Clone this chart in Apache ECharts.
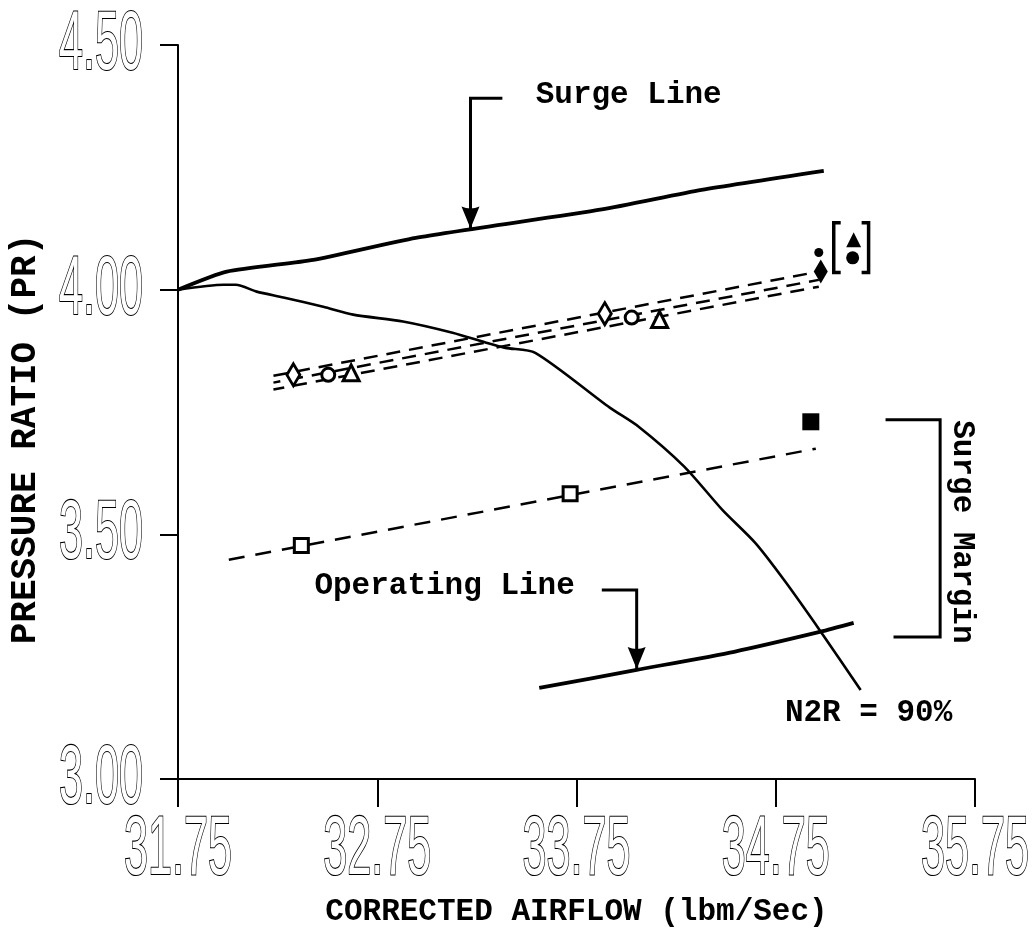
<!DOCTYPE html>
<html><head><meta charset="utf-8">
<script src="https://cdn.jsdelivr.net/npm/echarts@6/dist/echarts.min.js"></script>
<style>html,body{margin:0;padding:0;background:#fff}#c{width:1033px;height:933px}</style>
</head><body><div id="c"></div>
<script>
// ---- tick values and labels ----
const xTicks = [31.75, 32.75, 33.75, 34.75, 35.75];
const xTickLabels = ['31.75', '32.75', '33.75', '34.75', '35.75'];
const yTicks = [3.00, 3.50, 4.00, 4.50];
const yTickLabels = ['3.00', '3.50', '4.00', '4.50'];

// ---- curves ----
const surgeLine = [[31.75,4.000],[31.995,4.037],[32.429,4.061],[32.943,4.106],[33.877,4.164],[34.377,4.204],[34.991,4.243]];
const speedLine90 = [[31.75,4.000],[31.98,4.010],[32.04,4.010],[32.145,3.996],[32.279,3.984],[32.479,3.965],[32.629,3.949],[32.879,3.935],[33.128,3.912],[33.293,3.892],[33.393,3.881],[33.543,3.871],[33.917,3.759],[34.062,3.720],[34.292,3.638],[34.482,3.550],[34.646,3.483],[34.791,3.407],[34.976,3.301],[35.176,3.182]];
const operatingLine = [[33.563,3.186],[34.052,3.223],[34.541,3.260],[34.976,3.301],[35.141,3.319]];

// ---- fitted dashed lines ----
const upperFitA = [[32.229,3.824],[34.966,4.037]];
const upperFitB = [[32.229,3.810],[34.966,4.020]];
const upperFitC = [[32.229,3.796],[34.966,4.006]];
const lowerFit = [[32.005,3.448],[34.951,3.675]];

// ---- test points ----
const openDiamonds = [[32.329,3.826],[33.892,3.951]];
const openCircles = [[32.504,3.826],[34.027,3.943]];
const openTriangles = [[32.619,3.830],[34.167,3.939]];
const openSquares = [[32.369,3.477],[33.718,3.583]];
const filledDiamonds = [[34.976,4.037]];
const filledDots = [[34.966,4.076]];
const filledTriangles = [[35.141,4.102]];
const filledCircles = [[35.136,4.065]];
const filledSquares = [[34.926,3.730]];

// ---- annotation geometry (data units) ----
const surgeLineArrow = [[33.378,4.391],[33.218,4.391],[33.218,4.125]];
const operatingLineArrow = [[33.877,3.386],[34.052,3.386],[34.052,3.225]];
const surgeMarginBracket = [[35.301,3.734],[35.575,3.734],[35.575,3.290],[35.341,3.290]];
const leftBracket = [[35.076,4.137],[35.041,4.137],[35.041,4.035],[35.076,4.035]];
const rightBracket = [[35.181,4.137],[35.216,4.137],[35.216,4.035],[35.181,4.035]];
const annotationTexts = [
  {name: 'Surge Line', value: [34.012, 4.397], rot: 0},
  {name: 'Operating Line', value: [33.088, 3.395], rot: 0},
  {name: 'N2R = 90%', value: [35.216, 3.135], rot: 0},
  {name: 'Surge Margin', value: [35.685, 3.505], rot: -90}
];

const mono = '"Liberation Mono", "DejaVu Sans Mono", monospace';
const chart = echarts.init(document.getElementById('c'), null, {renderer: 'canvas'});

function curve(data, width, dash, offset, smooth) {
  return {type: 'line', data: data, showSymbol: false, symbol: 'none', smooth: smooth || false,
    lineStyle: {color: '#000', width: width, type: dash || 'solid', dashOffset: offset || 0},
    z: 2, silent: true, animation: false};
}
function pts(data, symbol, size, filled) {
  return {type: 'scatter', data: data, symbol: symbol, symbolSize: size,
    itemStyle: {color: filled ? '#000' : '#fff', borderColor: '#000', borderWidth: filled ? 0 : 3, opacity: 1},
    z: 5, silent: true, animation: false};
}
function poly(coords, width) {
  return {type: 'lines', coordinateSystem: 'cartesian2d', polyline: true,
    symbol: 'none',
    lineStyle: {color: '#000', width: width || 3, opacity: 1, curveness: 0},
    data: [{coords: coords}], z: 4, silent: true, animation: false};
}
const arrowTips = [surgeLineArrow[surgeLineArrow.length - 1], operatingLineArrow[operatingLineArrow.length - 1]];

const option = {
  backgroundColor: '#fff',
  animation: false,
  grid: {left: 174, right: 58, top: 45, bottom: 154, containLabel: false},
  xAxis: {
    type: 'value', min: 31.75, max: 35.75,
    name: 'CORRECTED AIRFLOW (lbm/Sec)', nameLocation: 'middle', nameGap: 118,
    nameTextStyle: {fontFamily: mono, fontWeight: 'bold', fontSize: 31, color: '#000'},
    axisLine: {show: true, onZero: false, lineStyle: {color: '#000', width: 2}},
    axisTick: {show: true, length: 28, customValues: xTicks, lineStyle: {color: '#000', width: 2}},
    axisLabel: {show: false, customValues: xTicks},
    splitLine: {show: false}
  },
  yAxis: {
    type: 'value', min: 3, max: 4.5, interval: 0.5,
    name: 'PRESSURE RATIO (PR)', nameLocation: 'middle', nameGap: 134, nameRotate: 90,
    nameTextStyle: {fontFamily: mono, fontWeight: 'bold', fontSize: 36, color: '#000', padding: [0, 54, 0, 0]},
    axisLine: {show: true, onZero: false, lineStyle: {color: '#000', width: 2}},
    axisTick: {show: true, length: 18, lineStyle: {color: '#000', width: 2}},
    axisLabel: {show: false},
    splitLine: {show: false}
  },
  series: [
    curve(surgeLine, 3.8, 'solid', 0, 0.2),
    curve(speedLine90, 2.6, 'solid', 0, 0.25),
    curve(operatingLine, 3.8, 'solid', 0, 0.2),
    curve(upperFitA, 2.5, [14, 9], 0),
    curve(upperFitB, 2.5, [14, 9], 7),
    curve(upperFitC, 2.5, [14, 9], 3),
    curve(lowerFit, 2.5, [16, 11], 0),
    pts(openDiamonds, 'diamond', [13, 22], false),
    pts(openCircles, 'circle', 13, false),
    pts(openTriangles, 'triangle', 16, false),
    pts(openSquares, 'rect', 14, false),
    pts(filledDiamonds, 'diamond', [14, 24], true),
    pts(filledDots, 'circle', 9, true),
    pts(filledTriangles, 'triangle', 15, true),
    pts(filledCircles, 'circle', 13, true),
    pts(filledSquares, 'rect', 17, true),
    poly(surgeLineArrow, 3),
    poly(operatingLineArrow, 3),
    poly(surgeMarginBracket, 3),
    poly(leftBracket, 3.5),
    poly(rightBracket, 3.5),
    {
      type: 'scatter', data: arrowTips, silent: true, animation: false, z: 6,
      symbol: 'path://M0,0 Q9,4 18,0 L9,22 Z', symbolSize: [18, 22], symbolOffset: [0, -11],
      itemStyle: {color: '#000', opacity: 1}
    },
    {
      type: 'scatter', silent: true, animation: false, z: 6,
      data: annotationTexts.map(a => ({name: a.name, value: a.value, label: {rotate: a.rot}})),
      symbolSize: 0, itemStyle: {color: '#000', opacity: 1},
      label: {show: true, position: 'inside', formatter: p => p.name, textBorderWidth: 0,
        fontFamily: mono, fontWeight: 'bold', fontSize: 31, color: '#000', opacity: 1}
    }
  ]
};
chart.setOption(option);

// tall condensed tick labels placed through the axis scales
const tickFont = '83px "Liberation Sans Narrow", "Liberation Sans", sans-serif';
const graphics = [];
xTicks.forEach((v, i) => {
  const p = chart.convertToPixel({gridIndex: 0}, [v, 3]);
  graphics.push({type: 'text', x: p[0], y: p[1] + 72, scaleX: 0.52, silent: true,
    style: {text: xTickLabels[i], font: tickFont, fill: '#fff', stroke: '#000', lineWidth: 2.2,
      align: 'center', verticalAlign: 'middle', textAlign: 'center', textVerticalAlign: 'middle'}});
});
yTicks.forEach((v, i) => {
  const p = chart.convertToPixel({gridIndex: 0}, [31.75, v]);
  graphics.push({type: 'text', x: p[0] - 35, y: p[1] + 1, scaleX: 0.52, silent: true,
    style: {text: yTickLabels[i], font: tickFont, fill: '#fff', stroke: '#000', lineWidth: 2.2,
      align: 'right', verticalAlign: 'middle', textAlign: 'right', textVerticalAlign: 'middle'}});
});
chart.setOption({graphic: graphics});
</script></body></html>
